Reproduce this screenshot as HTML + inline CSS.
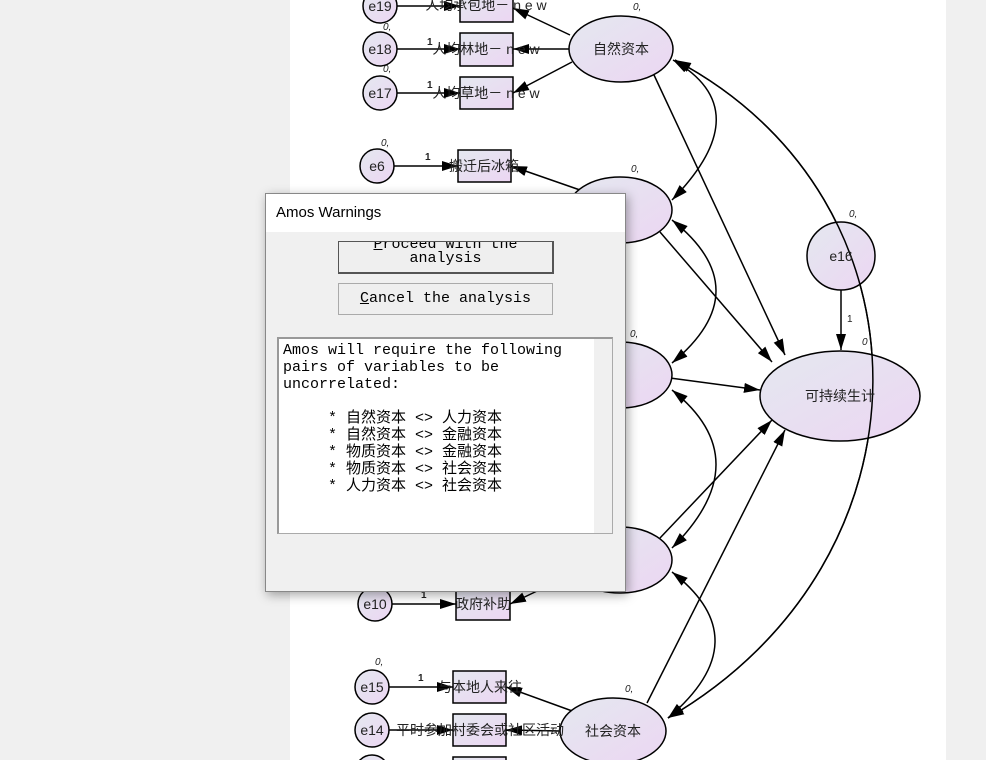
<!DOCTYPE html>
<html><head><meta charset="utf-8"><style>
body{margin:0;width:986px;height:760px;overflow:hidden;background:#f0f0f0;position:relative;font-family:"Liberation Sans","Noto Sans CJK SC",sans-serif}
#cv{position:absolute;left:290px;top:0;width:656px;height:760px;background:#fff}
svg{position:absolute;left:0;top:0}
.dlg{position:absolute;left:265px;top:193px;width:359px;height:397px;background:#f0f0f0;border:1px solid #888;box-shadow:2px 3px 10px rgba(0,0,0,.35)}
.tt{height:38px;background:#fff;font-size:15px;line-height:38px;padding-left:10px;color:#000}
.btn{position:absolute;left:72px;width:213px;height:30px;border:1px solid #555;background:#efefef;font-family:"Liberation Mono","Noto Sans CJK SC",monospace;font-size:15px;text-align:center;color:#000}
.tb{position:absolute;left:11px;top:143px;width:336px;height:197px;background:#fff;border:1px solid #aaa;border-top:2px solid #999;border-left:2px solid #999;font-family:"Liberation Mono","WenQuanYi Zen Hei",monospace;font-size:15px;line-height:17px;white-space:pre;padding:3px 4px;box-sizing:border-box;color:#000}
.sb{position:absolute;right:0;top:0;width:18px;height:100%;background:#f0f0f0}
</style></head><body>
<div id="cv"></div>
<svg width="986" height="760" viewBox="0 0 986 760">
<defs>
<linearGradient id="g" x1="0" y1="0" x2="1" y2="1"><stop offset="0" stop-color="#e4e8f0"/><stop offset="1" stop-color="#ecd6f2"/></linearGradient>
<marker id="b" markerWidth="16" markerHeight="10" refX="16" refY="5" orient="auto-start-reverse" markerUnits="userSpaceOnUse"><path d="M0,0L16,5L0,10z" fill="#000"/></marker>
</defs>
<g stroke="#000" stroke-width="1.5" fill="none" marker-end="url(#b)">
<path d="M397,6L460,6"/><path d="M397,49L460,49"/><path d="M397,93L460,93"/><path d="M394,166L458,166"/><path d="M392,604L456,604"/><path d="M389,687L453,687"/><path d="M389,730L453,730"/>
<path d="M570,35L513,8"/><path d="M569,49L513,49"/><path d="M572,62L513,93"/><path d="M580,190L511,166"/><path d="M560,580L510,604"/><path d="M575,712L506,687"/><path d="M560,731L506,730"/>
<path d="M654,75L785,355"/><path d="M660,232L772,362"/><path d="M670,378L760,390"/><path d="M660,538L772,420"/><path d="M647,703L785,430"/><path d="M841,290L841,350"/>
</g>
<g stroke="#000" stroke-width="1.5" fill="none" marker-end="url(#b)" marker-start="url(#b)">
<path d="M673,60Q760,110 672,200"/><path d="M672,220Q760,290 672,363"/><path d="M672,390Q760,460 672,548"/><path d="M672,572Q760,640 668,718"/>
<path d="M675,60C940,200 940,560 668,718"/>
</g>
<g stroke="#000" stroke-width="1.5" fill="url(#g)">
<rect x="460" y="-10" width="53" height="32"/><rect x="460" y="33" width="53" height="33"/><rect x="460" y="77" width="53" height="32"/><rect x="458" y="150" width="53" height="32"/><rect x="456" y="588" width="54" height="32"/><rect x="453" y="671" width="53" height="32"/><rect x="453" y="714" width="53" height="32"/><rect x="453" y="757" width="53" height="32"/>
<circle cx="380" cy="6" r="17"/><circle cx="380" cy="49" r="17"/><circle cx="380" cy="93" r="17"/><circle cx="377" cy="166" r="17"/><circle cx="375" cy="604" r="17"/><circle cx="372" cy="687" r="17"/><circle cx="372" cy="730" r="17"/><circle cx="372" cy="772" r="17"/>
<ellipse cx="621" cy="49" rx="52" ry="33"/><ellipse cx="620" cy="210" rx="52" ry="33"/><ellipse cx="620" cy="375" rx="52" ry="33"/><ellipse cx="620" cy="560" rx="52" ry="33"/><ellipse cx="613" cy="731" rx="53" ry="33"/>
<ellipse cx="840" cy="396" rx="80" ry="45"/><circle cx="841" cy="256" r="34"/>
</g>
<path d="M675,60C940,200 940,560 668,718" stroke="#000" stroke-width="1.5" fill="none"/>
<g font-size="14" fill="#222" text-anchor="middle" font-family="Liberation Sans,Noto Sans CJK SC,sans-serif">
<text x="380" y="11">e19</text><text x="380" y="54">e18</text><text x="380" y="98">e17</text><text x="377" y="171">e6</text><text x="375" y="609">e10</text><text x="372" y="692">e15</text><text x="372" y="735">e14</text><text x="841" y="261">e16</text>
<text x="621" y="54" font-size="14">自然资本</text><text x="613" y="736" font-size="14">社会资本</text><text x="840" y="401" font-size="14">可持续生计</text>
<text x="486" y="10" font-size="14">人均承包地－ n e w</text><text x="486" y="54" font-size="14">人均林地－ n e w</text><text x="486" y="98" font-size="14">人均草地－ n e w</text>
<text x="484" y="171" font-size="14">搬迁后冰箱</text><text x="483" y="609" font-size="14">政府补助</text><text x="480" y="692" font-size="14">与本地人来往</text><text x="480" y="735" font-size="14">平时参加村委会或社区活动</text>
</g>
<g font-size="10" font-style="italic" fill="#222">
<text x="633" y="10">0,</text><text x="381" y="146">0,</text><text x="631" y="172">0,</text><text x="630" y="337">0,</text><text x="849" y="217">0,</text><text x="862" y="345">0</text><text x="375" y="665">0,</text><text x="625" y="692">0,</text><text x="383" y="30">0,</text><text x="383" y="72">0,</text>
<text x="425" y="160" font-style="normal" font-weight="bold">1</text><text x="427" y="45" font-style="normal" font-weight="bold">1</text><text x="427" y="88" font-style="normal" font-weight="bold">1</text><text x="421" y="598" font-style="normal" font-weight="bold">1</text><text x="418" y="681" font-style="normal" font-weight="bold">1</text><text x="847" y="322" font-style="normal">1</text>
</g>
</svg>
<div class="dlg">
<div class="tt">Amos Warnings</div>
<div class="btn" style="top:47px;line-height:14px;overflow:hidden;border-width:1px 2px 2px 1px;"><span style="position:relative;top:-4px"><u>P</u>roceed with the<br>analysis</span></div>
<div class="btn" style="top:89px;line-height:30px;border-color:#aaa"><u>C</u>ancel the analysis</div>
<div class="tb">Amos will require the following
pairs of variables to be
uncorrelated:

     * 自然资本 <> 人力资本
     * 自然资本 <> 金融资本
     * 物质资本 <> 金融资本
     * 物质资本 <> 社会资本
     * 人力资本 <> 社会资本<div class="sb"></div></div>
</div>
</body></html>
